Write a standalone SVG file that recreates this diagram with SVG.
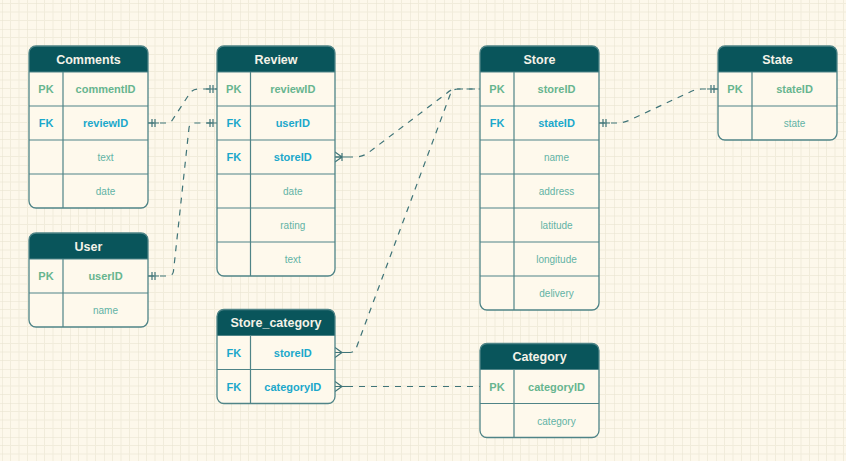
<svg xmlns="http://www.w3.org/2000/svg" width="846" height="461" viewBox="0 0 846 461">
<style>
.hdr{fill:#09555B}
.body{fill:#FEF9EC}
.rows{fill:none;stroke:#4F8487;stroke-width:1.2}
.frame{fill:none;stroke:#4F8487;stroke-width:1.3}
text{font-family:"Liberation Sans",Arial,sans-serif;text-anchor:middle}
.title{font-size:12.5px;font-weight:bold;fill:#F4F2E8}
.pk{font-size:11px;font-weight:bold;fill:#67B58F}
.fk{font-size:11px;font-weight:bold;fill:#1BA8CB}
.fld{font-size:10px;fill:#62B3A5}
.edge{fill:none;stroke:#3F7478;stroke-width:1.2;stroke-dasharray:6 6}
</style>
<defs>
<pattern id="grid" width="34" height="34" x="2" y="29" patternUnits="userSpaceOnUse">
<path d="M8.5,0V34M17,0V34M25.5,0V34M0,8.5H34M0,17H34M0,25.5H34" stroke="#F1ECDB" stroke-width="1" fill="none"/>
<path d="M0,0V34M0,0H34" stroke="#E7E2CF" stroke-width="1" fill="none"/>
</pattern>
<marker id="one" viewBox="-12 -6 12 12" refX="0" refY="0" markerWidth="12" markerHeight="12" markerUnits="userSpaceOnUse" orient="auto-start-reverse" overflow="visible">
<path d="M-11,0H0M-4,-4V4M-7,-4V4" fill="none" stroke="#3F7478" stroke-width="1.2"/>
</marker>
<marker id="many" viewBox="-12 -6 12 12" refX="0" refY="0" markerWidth="12" markerHeight="12" markerUnits="userSpaceOnUse" orient="auto-start-reverse" overflow="visible">
<path d="M-12,0H0M0,-5L-7,0L0,5" fill="none" stroke="#3F7478" stroke-width="1.2"/>
</marker>
<marker id="onemany" viewBox="-12 -6 12 12" refX="0" refY="0" markerWidth="12" markerHeight="12" markerUnits="userSpaceOnUse" orient="auto-start-reverse" overflow="visible">
<path d="M-12,0H0M0,-5L-7,0L0,5M-7,-4V4" fill="none" stroke="#3F7478" stroke-width="1.2"/>
</marker>
</defs>
<rect width="846" height="461" fill="#FDF8EB"/>
<rect width="846" height="461" fill="url(#grid)"/>

<g id="connectors">
<path class="edge" d="M148,123 L167,123 Q171,123 173,119 L190,93 Q193,89 198,89 L217,89" marker-start="url(#one)" marker-end="url(#one)"/>
<path class="edge" d="M148,276 L168,276 Q173,276 173.5,271 L189,128 Q189.5,123 195,123 L217,123" marker-start="url(#one)" marker-end="url(#one)"/>
<path class="edge" d="M335,157 L355,157 Q362,157 368,153 L447,93 Q451,89 457,89 L480,89" marker-start="url(#onemany)"/>
<path class="edge" d="M335,352.5 L350,352.5 Q355,352.5 357,346 L450,95 Q452,89 458,89 L480,89" marker-start="url(#many)"/>
<path class="edge" d="M335,386.5 L480,386.5" marker-start="url(#many)"/>
<path class="edge" d="M599,123 L618,123 Q624,123 632,119 L690,92 Q696,89 702,89 L718,89" marker-start="url(#one)" marker-end="url(#one)"/>
</g>

<g id="comments">
<path class="hdr" d="M29,72V53Q29,46 36,46H141Q148,46 148,53V72Z"/>
<path class="body" d="M29,72H148V201Q148,208 141,208H36Q29,208 29,201Z"/>
<path class="rows" d="M29,72H148M29,106H148M29,140H148M29,174H148M63,72V208"/>
<rect class="frame" x="29" y="46" width="119" height="162" rx="7"/>
<text class="title" x="88.5" y="63.5">Comments</text>
<text class="pk" x="46" y="93">PK</text><text class="pk" x="105.5" y="93">commentID</text>
<text class="fk" x="46" y="127">FK</text><text class="fk" x="105.5" y="127">reviewID</text>
<text class="fld" x="105.5" y="161">text</text>
<text class="fld" x="105.5" y="195">date</text>
</g>

<g id="review">
<path class="hdr" d="M217,72V53Q217,46 224,46H328Q335,46 335,53V72Z"/>
<path class="body" d="M217,72H335V269Q335,276 328,276H224Q217,276 217,269Z"/>
<path class="rows" d="M217,72H335M217,106H335M217,140H335M217,174H335M217,208H335M217,242H335M250.5,72V276"/>
<rect class="frame" x="217" y="46" width="118" height="230" rx="7"/>
<text class="title" x="276" y="63.5">Review</text>
<text class="pk" x="233.75" y="93">PK</text><text class="pk" x="292.75" y="93">reviewID</text>
<text class="fk" x="233.75" y="127">FK</text><text class="fk" x="292.75" y="127">userID</text>
<text class="fk" x="233.75" y="161">FK</text><text class="fk" x="292.75" y="161">storeID</text>
<text class="fld" x="292.75" y="195">date</text>
<text class="fld" x="292.75" y="229">rating</text>
<text class="fld" x="292.75" y="263">text</text>
</g>

<g id="store">
<path class="hdr" d="M480,72V53Q480,46 487,46H592Q599,46 599,53V72Z"/>
<path class="body" d="M480,72H599V303Q599,310 592,310H487Q480,310 480,303Z"/>
<path class="rows" d="M480,72H599M480,106H599M480,140H599M480,174H599M480,208H599M480,242H599M480,276H599M514,72V310"/>
<rect class="frame" x="480" y="46" width="119" height="264" rx="7"/>
<text class="title" x="539.5" y="63.5">Store</text>
<text class="pk" x="497" y="93">PK</text><text class="pk" x="556.5" y="93">storeID</text>
<text class="fk" x="497" y="127">FK</text><text class="fk" x="556.5" y="127">stateID</text>
<text class="fld" x="556.5" y="161">name</text>
<text class="fld" x="556.5" y="195">address</text>
<text class="fld" x="556.5" y="229">latitude</text>
<text class="fld" x="556.5" y="263">longitude</text>
<text class="fld" x="556.5" y="297">delivery</text>
</g>

<g id="state">
<path class="hdr" d="M718,72V53Q718,46 725,46H830Q837,46 837,53V72Z"/>
<path class="body" d="M718,72H837V133Q837,140 830,140H725Q718,140 718,133Z"/>
<path class="rows" d="M718,72H837M718,106H837M752,72V140"/>
<rect class="frame" x="718" y="46" width="119" height="94" rx="7"/>
<text class="title" x="777.5" y="63.5">State</text>
<text class="pk" x="735" y="93">PK</text><text class="pk" x="794.5" y="93">stateID</text>
<text class="fld" x="794.5" y="127">state</text>
</g>

<g id="user">
<path class="hdr" d="M29,259V240Q29,233 36,233H141Q148,233 148,240V259Z"/>
<path class="body" d="M29,259H148V320Q148,327 141,327H36Q29,327 29,320Z"/>
<path class="rows" d="M29,259H148M29,293H148M63,259V327"/>
<rect class="frame" x="29" y="233" width="119" height="94" rx="7"/>
<text class="title" x="88.5" y="250.5">User</text>
<text class="pk" x="46" y="280">PK</text><text class="pk" x="105.5" y="280">userID</text>
<text class="fld" x="105.5" y="314">name</text>
</g>

<g id="store_category">
<path class="hdr" d="M217,335.5V316.5Q217,309.5 224,309.5H328Q335,309.5 335,316.5V335.5Z"/>
<path class="body" d="M217,335.5H335V396.5Q335,403.5 328,403.5H224Q217,403.5 217,396.5Z"/>
<path class="rows" d="M217,335.5H335M217,369.5H335M250.5,335.5V403.5"/>
<rect class="frame" x="217" y="309.5" width="118" height="94" rx="7"/>
<text class="title" x="276" y="327">Store_category</text>
<text class="fk" x="233.75" y="356.5">FK</text><text class="fk" x="292.75" y="356.5">storeID</text>
<text class="fk" x="233.75" y="390.5">FK</text><text class="fk" x="292.75" y="390.5">categoryID</text>
</g>

<g id="category">
<path class="hdr" d="M480,369.5V350.5Q480,343.5 487,343.5H592Q599,343.5 599,350.5V369.5Z"/>
<path class="body" d="M480,369.5H599V430.5Q599,437.5 592,437.5H487Q480,437.5 480,430.5Z"/>
<path class="rows" d="M480,369.5H599M480,403.5H599M514,369.5V437.5"/>
<rect class="frame" x="480" y="343.5" width="119" height="94" rx="7"/>
<text class="title" x="539.5" y="361">Category</text>
<text class="pk" x="497" y="390.5">PK</text><text class="pk" x="556.5" y="390.5">categoryID</text>
<text class="fld" x="556.5" y="424.5">category</text>
</g>
</svg>
